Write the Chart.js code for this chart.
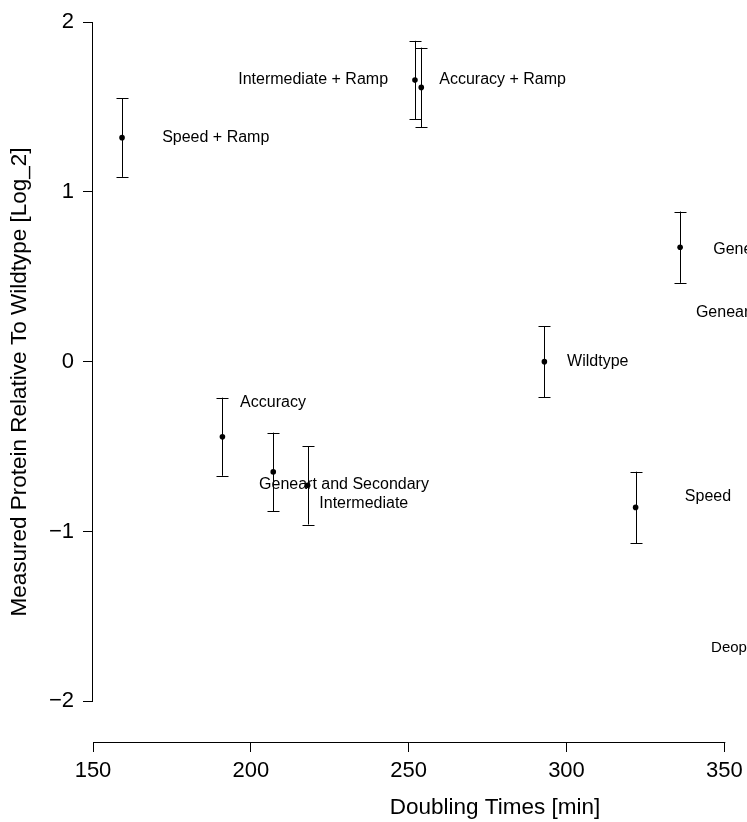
<!DOCTYPE html>
<html lang="en">
<head>
  <meta charset="UTF-8" />
  <title>Doubling Times vs Measured Protein</title>
  <script src="https://cdn.jsdelivr.net/npm/chart.js"></script>
  <style>
    html, body { margin: 0; padding: 0; background: #fff; }
    canvas { display: block; }
  </style>
</head>
<body>
  <canvas id="chart" width="747" height="822"></canvas>

  <script>
    // doubling time [min] against log2 protein relative to wildtype
    const strains = ['Speed + Ramp', 'Intermediate + Ramp', 'Accuracy + Ramp', 'Geneart + Ramp',
                     'Wildtype', 'Accuracy', 'Geneart and Secondary', 'Intermediate', 'Speed'];
    const doublingTimes = [159.2, 252.0, 254.0, 336.0, 293.0, 191.0, 207.1, 218.0, 321.9];
    const proteinLog2 = [1.319, 1.658, 1.615, 0.674, 0.0, -0.442, -0.649, -0.728, -0.858];
    const proteinErr = [0.231, 0.231, 0.234, 0.21, 0.21, 0.23, 0.231, 0.231, 0.21];

    // text labels, anchored in data units (left edge, vertical middle)
    const labelText = ['Speed + Ramp', 'Intermediate + Ramp', 'Accuracy + Ramp', 'Geneart + Ramp', 'Geneart',
                       'Wildtype', 'Accuracy', 'Geneart and Secondary', 'Intermediate', 'Speed', 'Deoptimized'];
    const labelX = [171.9, 196.0, 259.7, 346.5, 341.0, 300.2, 196.6, 202.6, 221.7, 337.5, 345.8];
    const labelY = [1.317, 1.658, 1.66, 0.66, 0.286, 0.0, -0.242, -0.726, -0.838, -0.795, -1.686];

    const xTicks = [150, 200, 250, 300, 350];
    const yTicks = [-2, -1, 0, 1, 2];

    const FONT = "'Liberation Sans', Arial, sans-serif";

    // R-like extras: error bars, text labels, axis lines and titles
    const rStyle = {
      id: 'rStyle',
      beforeDatasetsDraw(chart) {
        const { ctx, scales: { x, y } } = chart;
        ctx.save();
        ctx.strokeStyle = '#000';
        ctx.lineWidth = 1;
        doublingTimes.forEach((t, i) => {
          const px = Math.round(x.getPixelForValue(t)) + 0.5;
          const top = y.getPixelForValue(proteinLog2[i] + proteinErr[i]);
          const bot = y.getPixelForValue(proteinLog2[i] - proteinErr[i]);
          ctx.beginPath();
          ctx.moveTo(px, top); ctx.lineTo(px, bot);
          ctx.moveTo(px - 6, Math.round(top) + 0.5); ctx.lineTo(px + 6, Math.round(top) + 0.5);
          ctx.moveTo(px - 6, Math.round(bot) + 0.5); ctx.lineTo(px + 6, Math.round(bot) + 0.5);
          ctx.stroke();
        });
        ctx.restore();
      },
      afterDraw(chart) {
        const { ctx, chartArea, scales: { x, y } } = chart;
        ctx.save();
        ctx.fillStyle = '#000';
        ctx.strokeStyle = '#000';
        ctx.lineWidth = 1;

        // labels
        ctx.textAlign = 'left';
        ctx.textBaseline = 'middle';
        labelText.forEach((txt, i) => {
          ctx.font = (txt === 'Deoptimized' ? 15 : 16) + 'px ' + FONT;
          ctx.fillText(txt, x.getPixelForValue(labelX[i]), y.getPixelForValue(labelY[i]));
        });

        // axis lines only across the tick range
        const ax = chartArea.left - 0.5;
        ctx.beginPath();
        ctx.moveTo(ax, y.getPixelForValue(yTicks[yTicks.length - 1]));
        ctx.lineTo(ax, y.getPixelForValue(yTicks[0]) + 0.5);
        const ay = chartArea.bottom + 0.5;
        ctx.moveTo(x.getPixelForValue(xTicks[0]), ay);
        ctx.lineTo(x.getPixelForValue(xTicks[xTicks.length - 1]) + 1, ay);
        ctx.stroke();

        // axis titles
        ctx.font = '22.5px ' + FONT;
        ctx.textAlign = 'center';
        ctx.textBaseline = 'middle';
        ctx.fillText('Doubling Times [min]', 495, 808);
        ctx.translate(20, (chartArea.top + chartArea.bottom) / 2);
        ctx.rotate(-Math.PI / 2);
        ctx.fillText('Measured Protein Relative To Wildtype [Log_2]', 0, 0);
        ctx.restore();
      }
    };

    new Chart(document.getElementById('chart'), {
      type: 'scatter',
      data: {
        datasets: [{
          label: 'Strains',
          data: doublingTimes.map((t, i) => ({ x: t, y: proteinLog2[i] })),
          pointRadius: 2.8,
          pointBackgroundColor: '#000',
          pointBorderWidth: 0
        }]
      },
      options: {
        responsive: false,
        animation: false,
        layout: { autoPadding: false, padding: { top: 22, right: 0, bottom: 0, left: 0 } },
        plugins: { legend: { display: false }, tooltip: { enabled: false } },
        scales: {
          x: {
            type: 'linear',
            min: 150,
            max: 357.19,
            afterBuildTicks: s => { s.ticks = xTicks.map(v => ({ value: v })); },
            afterFit: s => { s.height = 80; s.paddingLeft = 0; s.paddingRight = 0; },
            border: { display: false },
            grid: { drawOnChartArea: false, drawTicks: true, tickLength: 10, color: '#000' },
            ticks: { color: '#000', font: { family: FONT, size: 22 }, padding: 6, maxRotation: 0 }
          },
          y: {
            type: 'linear',
            min: -2.2395,
            max: 2,
            afterBuildTicks: s => { s.ticks = yTicks.map(v => ({ value: v })); },
            afterFit: s => { s.width = 93; s.paddingTop = 0; s.paddingBottom = 0; },
            border: { display: false },
            grid: { drawOnChartArea: false, drawTicks: true, tickLength: 10, color: '#000' },
            ticks: {
              color: '#000', font: { family: FONT, size: 22 }, padding: 9,
              callback: v => (v < 0 ? '\u2212' + Math.abs(v) : String(v))
            }
          }
        }
      },
      plugins: [rStyle]
    });
  </script>
</body>
</html>
